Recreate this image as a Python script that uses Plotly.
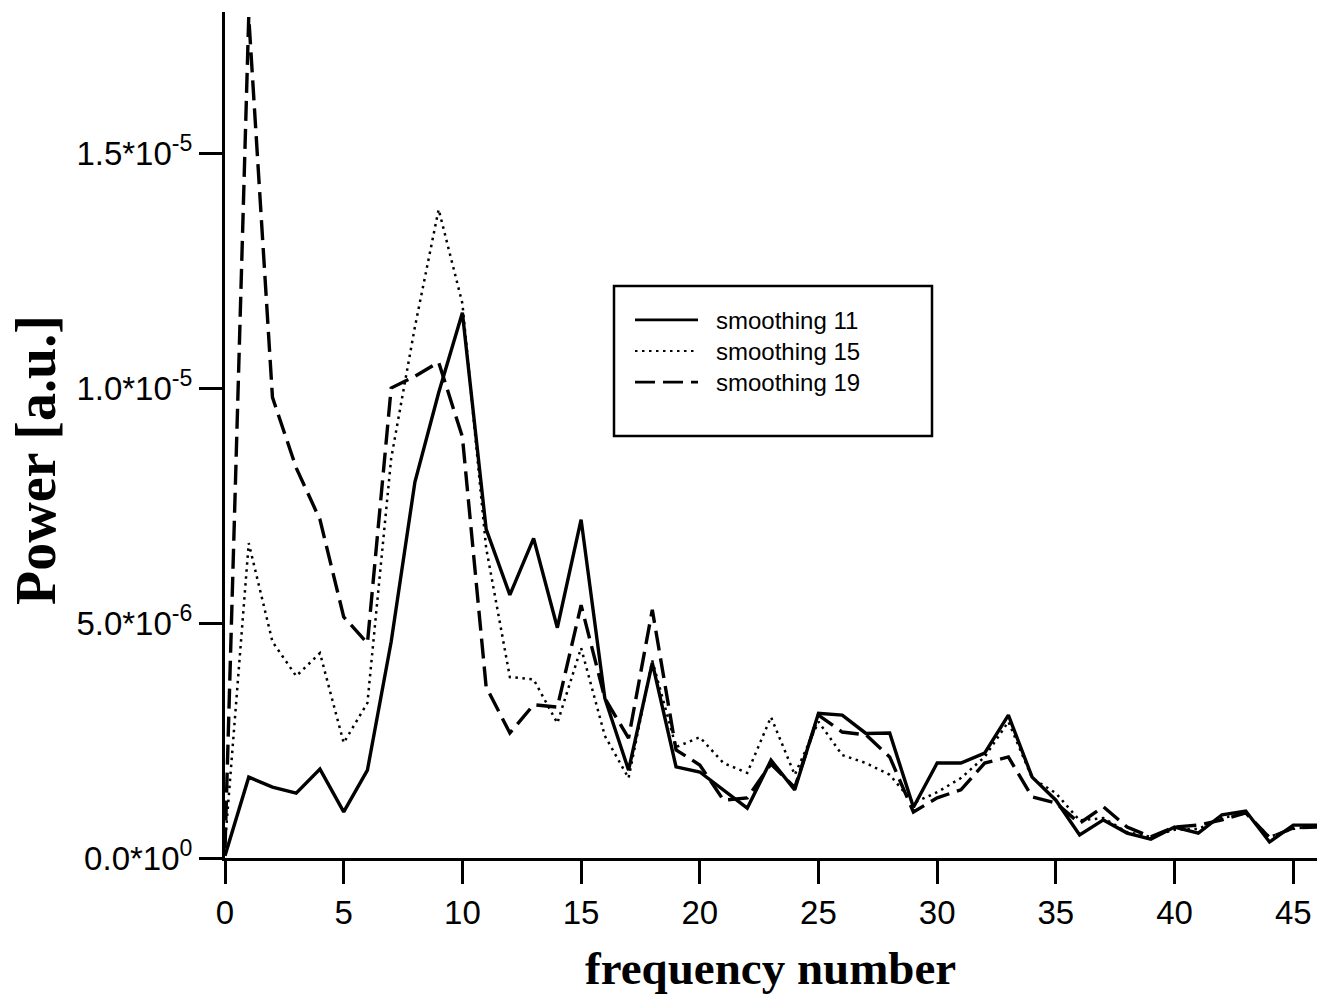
import plotly.graph_objects as go
import numpy as np

# frequency numbers 0..46
freq = list(range(47))
SCALE = 1e-6  # values below are in units of 1e-6

smoothing_11 = [0.05, 1.72, 1.51, 1.38, 1.89, 0.98, 1.87, 4.6, 8.0, 9.9, 11.6, 7.0, 5.6, 6.8, 4.9, 7.2,
                3.4, 1.87, 4.15, 1.94, 1.83, 1.45, 1.06, 2.08, 1.45, 3.08, 3.04, 2.65, 2.66, 1.08, 2.02,
                2.02, 2.23, 3.04, 1.72, 1.23, 0.49, 0.81, 0.53, 0.40, 0.66, 0.53, 0.92, 1.0, 0.34, 0.70, 0.70]
smoothing_15 = [0.3, 6.7, 4.6, 3.87, 4.36, 2.45, 3.3, 8.5, 11.3, 13.8, 11.8, 6.6, 3.85, 3.8, 2.87, 4.47,
                2.6, 1.7, 4.2, 2.36, 2.57, 2.02, 1.81, 3.0, 1.77, 2.9, 2.19, 2.02, 1.77, 1.17, 1.4,
                1.7, 2.15, 2.9, 1.7, 1.38, 0.8, 0.85, 0.55, 0.45, 0.6, 0.62, 0.85, 0.95, 0.45, 0.62, 0.68]
smoothing_19 = [0.2, 17.9, 9.8, 8.3, 7.2, 5.13, 4.57, 10.0, 10.25, 10.55, 8.96, 3.64, 2.66, 3.26, 3.21, 5.38,
                3.4, 2.55, 5.28, 2.3, 1.98, 1.23, 1.28, 2.0, 1.5, 3.04, 2.68, 2.62, 2.15, 0.98, 1.28,
                1.45, 2.02, 2.15, 1.3, 1.17, 0.74, 1.09, 0.66, 0.45, 0.66, 0.7, 0.81, 0.96, 0.43, 0.64, 0.66]

series_names = ["smoothing 11", "smoothing 15", "smoothing 19"]
y_tickvals = [0, 5e-6, 1.0e-5, 1.5e-5]
y_ticktext = ["0.0*10<sup>0</sup>", "5.0*10<sup>-6</sup>", "1.0*10<sup>-5</sup>", "1.5*10<sup>-5</sup>"]
x_tickvals = [0, 5, 10, 15, 20, 25, 30, 35, 40, 45]

styles = [
    dict(color="black", width=3.4, dash="solid"),
    dict(color="black", width=2.5, dash="2.5px,4.5px"),
    dict(color="black", width=3.4, dash="20px,8px"),
]

fig = go.Figure()
for name, vals, st in zip(series_names, [smoothing_11, smoothing_15, smoothing_19], styles):
    fig.add_trace(go.Scatter(
        x=freq, y=np.array(vals) * SCALE, mode="lines", name=name,
        line=st, showlegend=False, cliponaxis=True,
    ))

W, H = 1319, 1001
L, R, T, B = 225, 2, 12, 143
pw, ph = W - L - R, H - T - B

def px(xp):
    return (xp - L) / pw

def py(yp):
    return (H - B - yp) / ph

sans = "Liberation Sans, Arial, sans-serif"
serif = "Liberation Serif, Times New Roman, serif"
tickfont = dict(size=33, family=sans, color="black")
fig.update_layout(
    width=W, height=H,
    margin=dict(l=L, r=R, t=T, b=B),
    paper_bgcolor="white", plot_bgcolor="white",
    font=dict(family=sans, color="black"),
    xaxis=dict(
        range=[0, 46], tickvals=x_tickvals, ticks="outside", ticklen=23, tickwidth=3,
        tickcolor="black", showline=True, linecolor="black", linewidth=3, showgrid=False,
        zeroline=False, tickfont=tickfont,
    ),
    yaxis=dict(
        range=[0, 1.8e-5], tickvals=y_tickvals, ticktext=y_ticktext, ticks="outside",
        ticklen=23, tickwidth=3, tickcolor="black", showline=True, linecolor="black",
        linewidth=3, showgrid=False, zeroline=False, tickfont=tickfont,
    ),
)

# axis titles
fig.add_annotation(text="<b>frequency number</b>", x=px(770), y=py(968), xref="paper", yref="paper",
                   showarrow=False, font=dict(size=47, family=serif, color="black"),
                   xanchor="center", yanchor="middle")
fig.add_annotation(text="<b>Power [a.u.]</b>", x=px(36), y=py(460), xref="paper", yref="paper",
                   showarrow=False, textangle=-90,
                   font=dict(size=56, family=serif, color="black"),
                   xanchor="center", yanchor="middle")

# legend box (drawn manually for compact spacing)
LEG_FONT = 24
row_gap = LEG_FONT * 1.3
mid = 351
rows = [mid - row_gap, mid, mid + row_gap]
box = dict(x0=px(614), x1=px(932), y0=py(436), y1=py(286))
fig.add_shape(type="rect", xref="paper", yref="paper", line=dict(color="black", width=2.5),
              fillcolor="white", layer="above", **box)
for st, ry in zip(styles, rows):
    fig.add_shape(type="line", xref="paper", yref="paper", x0=px(635), x1=px(698),
                  y0=py(ry), y1=py(ry), line=dict(color="black", width=st["width"] - 0.6, dash=st["dash"]),
                  layer="above")
fig.add_annotation(text="<br>".join(series_names), x=px(714), y=py(mid), xref="paper", yref="paper",
                   showarrow=False, xanchor="left", yanchor="middle", align="left",
                   font=dict(size=LEG_FONT, family=sans, color="black"))

fig.write_html("out.html")
